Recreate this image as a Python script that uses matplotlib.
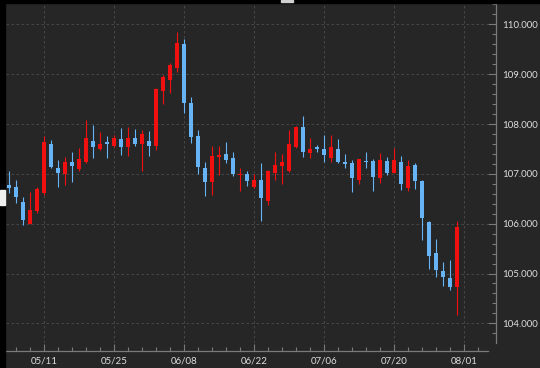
import numpy as np
import matplotlib.pyplot as plt
from matplotlib.patches import Rectangle
from matplotlib.ticker import FixedLocator, MultipleLocator, FormatStrFormatter

# daily candles (trading days, 2020-05-04 .. 2020-07-31)
opens = [106.78, 106.73, 106.43, 106.00, 106.26, 106.62, 107.59, 107.12, 107.00, 107.24,
         107.09, 107.23, 107.66, 107.49, 107.64, 107.56, 107.71, 107.54, 107.73, 107.60,
         107.66, 107.56, 108.67, 108.88, 109.12, 109.60, 108.43, 107.76, 107.11, 106.83,
         107.34, 107.40, 107.32, 106.975, 106.99, 106.73, 106.875, 106.45, 107.02, 107.16,
         107.06, 107.53, 107.945, 107.41, 107.53, 107.49, 107.31, 107.50, 107.24, 107.21,
         106.875, 107.26, 107.26, 106.91, 107.26, 107.02, 107.23, 106.71, 107.18, 106.86,
         106.03, 105.42, 105.05, 104.90, 104.72]
highs = [107.06, 106.875, 106.54, 106.64, 106.74, 107.76, 107.68, 107.27, 107.34, 107.43,
         107.51, 108.08, 107.98, 107.84, 107.76, 107.78, 107.92, 107.94, 107.91, 107.88,
         107.86, 108.73, 108.98, 109.22, 109.85, 109.70, 108.55, 107.88, 107.23, 107.56,
         107.56, 107.64, 107.44, 107.12, 107.06, 106.99, 107.22, 107.075, 107.44, 107.39,
         107.88, 107.965, 108.17, 107.73, 107.58, 107.78, 107.79, 107.70, 107.39, 107.27,
         107.30, 107.43, 107.29, 107.41, 107.34, 107.52, 107.36, 107.28, 107.22, 106.875,
         106.05, 105.69, 105.24, 105.27, 106.06]
lows = [106.61, 106.42, 105.97, 105.99, 106.21, 106.57, 107.11, 106.73, 106.775, 106.84,
        107.06, 107.21, 107.32, 107.48, 107.32, 107.54, 107.38, 107.36, 107.56, 107.06,
        107.36, 107.48, 108.41, 108.62, 109.05, 108.23, 107.61, 106.99, 106.56, 106.57,
        106.98, 107.21, 106.96, 106.65, 106.755, 106.71, 106.06, 106.37, 106.875, 106.80,
        107.03, 107.51, 107.33, 107.32, 107.44, 107.24, 107.24, 107.21, 107.11, 106.63,
        106.79, 107.12, 106.66, 106.81, 106.975, 107.01, 106.675, 106.66, 106.695, 105.67,
        105.10, 104.935, 104.75, 104.67, 104.17]
closes = [106.72, 106.53, 106.07, 106.27, 106.69, 107.63, 107.14, 107.02, 107.23, 107.16,
          107.30, 107.725, 107.53, 107.60, 107.60, 107.725, 107.54, 107.725, 107.60, 107.80,
          107.56, 108.695, 108.94, 109.18, 109.62, 108.43, 107.74, 107.13, 106.84, 107.36,
          107.37, 107.28, 106.99, 107.00, 106.86, 106.875, 106.515, 107.06, 107.18, 107.23,
          107.59, 107.945, 107.44, 107.50, 107.50, 107.38, 107.54, 107.24, 107.19, 106.91,
          107.29, 107.23, 106.93, 107.28, 107.01, 107.28, 106.79, 107.16, 106.855, 106.105,
          105.36, 105.08, 104.92, 104.72, 105.93]

date_ticks = [5, 15, 25, 35, 45, 55, 65]
date_labels = ["05/11", "05/25", "06/08", "06/22", "07/06", "07/20", "08/01"]
price_ticks = [104, 105, 106, 107, 108, 109, 110]

bg = "#262626"
up_col = "#f01010"
down_col = "#66b3f5"
txt_col = "#dcdcdc"
axis_col = "#7a7a7a"

x = np.arange(len(opens))
o = np.array(opens)
c = np.array(closes)
colors = [up_col if cc > oo else down_col for oo, cc in zip(o, c)]

fig = plt.figure(figsize=(5.4, 3.68), dpi=100, facecolor=bg)
ax = fig.add_axes([6 / 540, 25 / 368, 482 / 540, 340 / 368], facecolor=bg)

ax.vlines(x, lows, highs, colors=colors, linewidth=0.8, zorder=2)
ax.bar(x, c - o, bottom=o, width=0.7, color=colors, linewidth=0, zorder=3)

ax.set_xlim(-0.43, 68.43)
ax.set_ylim(103.605, 110.43)

ax.xaxis.set_major_locator(FixedLocator(date_ticks))
ax.set_xticklabels(date_labels)
ax.xaxis.set_minor_locator(MultipleLocator(2, offset=1))
ax.yaxis.set_major_locator(FixedLocator(price_ticks))
ax.yaxis.set_major_formatter(FormatStrFormatter("%.3f"))
ax.yaxis.set_minor_locator(MultipleLocator(0.2))
ax.yaxis.tick_right()

for s in ["top", "left"]:
    ax.spines[s].set_visible(False)
ax.spines["right"].set_position(("outward", 6))
ax.spines["bottom"].set_position(("outward", 6))
for s in ["right", "bottom"]:
    ax.spines[s].set_color(axis_col)
    ax.spines[s].set_linewidth(0.9)

ax.tick_params(axis="x", which="both", direction="in", colors=axis_col, labelcolor=txt_col,
               labelsize=7, pad=4, width=0.8)
ax.tick_params(axis="x", which="major", length=5)
ax.tick_params(axis="x", which="minor", length=3)
ax.tick_params(axis="y", which="both", direction="in", colors=axis_col, labelcolor=txt_col,
               labelsize=7, pad=4, width=0.8)
ax.tick_params(axis="y", which="major", length=5.5)
ax.tick_params(axis="y", which="minor", length=3)
for lab in ax.get_xticklabels() + ax.get_yticklabels():
    lab.set_fontfamily("Lato")

ax.grid(True, which="major", color="#4d4d4d", linestyle=(0, (3, 3)), linewidth=0.6, zorder=0)
ax.set_axisbelow(True)

# window chrome: black edges and small markers
fig.patches.append(Rectangle((0, 0), 5 / 540, 1, transform=fig.transFigure, color="black", zorder=0))
fig.patches.append(Rectangle((0, 365 / 368), 1, 3 / 368, transform=fig.transFigure, color="black", zorder=0))
fig.patches.append(Rectangle((281 / 540, 366 / 368), 12 / 540, 2 / 368, transform=fig.transFigure,
                             color="#d0d0d0", zorder=1))
fig.patches.append(Rectangle((0, 163 / 368), 5 / 540, 15 / 368, transform=fig.transFigure,
                             color="#f0f0f0", zorder=1))

fig.savefig("out.png", dpi=100, facecolor=bg)
